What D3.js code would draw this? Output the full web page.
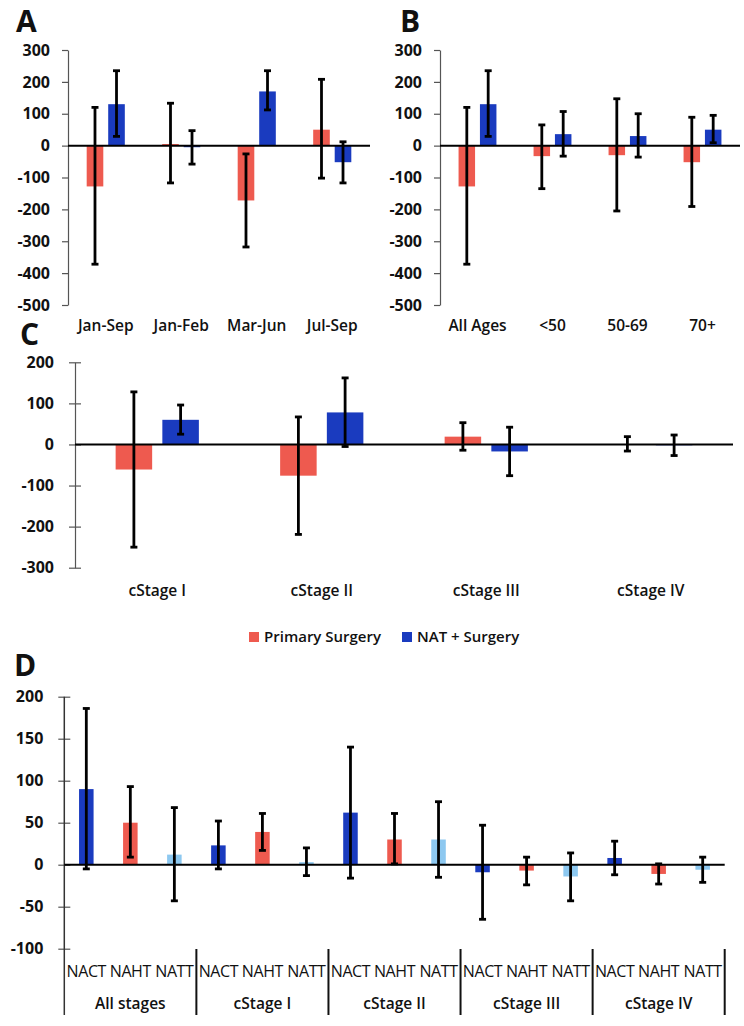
<!DOCTYPE html>
<html><head><meta charset="utf-8">
<script src="https://cdn.jsdelivr.net/npm/d3@7"></script>
<style>
body{margin:0;background:#fff;}
svg{display:block;}
text{font-family:"Open Sans","Noto Sans",sans-serif;fill:#111;}
</style></head>
<body>
<svg id="chart" width="744" height="1026"></svg>
<script>
// ---------- DATA ----------
const seriesNames = ["Primary Surgery", "NAT + Surgery"];

const catsA = ["Jan-Sep", "Jan-Feb", "Mar-Jun", "Jul-Sep"];
const primaryA = [-128, 5, -172, 50];
const primaryA_lo = [-372, -117, -318, -102];
const primaryA_hi = [120, 133, -26, 208];
const natA = [130, -5, 170, -52];
const natA_lo = [29, -58, 112, -117];
const natA_hi = [235, 47, 235, 12];

const catsB = ["All Ages", "<50", "50-69", "70+"];
const primaryB = [-128, -33, -30, -52];
const primaryB_lo = [-372, -135, -205, -191];
const primaryB_hi = [120, 65, 147, 89];
const natB = [130, 36, 30, 50];
const natB_lo = [29, -33, -36, 9];
const natB_hi = [235, 107, 100, 95];

const catsC = ["cStage I", "cStage II", "cStage III", "cStage IV"];
const primaryC = [-61, -76, 19, -1];
const primaryC_lo = [-250, -219, -14, -16];
const primaryC_hi = [128, 67, 53, 19];
const natC = [60, 78, -17, -2];
const natC_lo = [25, -5, -76, -27];
const natC_hi = [96, 162, 42, 23];

const groupsD = ["All stages", "cStage I", "cStage II", "cStage III", "cStage IV"];
const treatD = ["NACT", "NAHT", "NATT"];
const valsD = [[90, 50, 12], [23, 39, 3], [62, 30, 30], [-9, -7, -14], [8, -11, -6]];
const loD = [[-5, 9, -43], [-5, 17, -13], [-16, 1, -15], [-65, -24, -43], [-12, -23, -21]];
const hiD = [[186, 93, 68], [52, 61, 20], [140, 61, 75], [47, 9, 14], [28, 1, 9]];

const ticksAB = [300, 200, 100, 0, -100, -200, -300, -400, -500];
const ticksC = [200, 100, 0, -100, -200, -300];
const ticksD = [200, 150, 100, 50, 0, -50, -100];

// ---------- STYLE ----------
const RED = "#ee5a4f", BLUE = "#1a3bbf", LIGHT = "#8dc8f0";
const svg = d3.select("#chart");

function errBars(g, items, y, capW) {
  const eg = g.append("g");
  items.forEach(d => {
    eg.append("line").attr("x1", d.x).attr("x2", d.x).attr("y1", y(d.hi)).attr("y2", y(d.lo))
      .attr("stroke", "#000").attr("stroke-width", 2.8);
    [d.hi, d.lo].forEach(v => eg.append("line").attr("x1", d.x - capW / 2).attr("x2", d.x + capW / 2)
      .attr("y1", y(v)).attr("y2", y(v)).attr("stroke", "#000").attr("stroke-width", 2.8));
  });
}

function yAxis(g, y, x0, ticks, cross, fs, pad) {
  const ax = d3.axisLeft(y).tickValues(ticks).tickFormat(d => String(d)).tickSizeOuter(0).tickSizeInner(6).tickPadding(pad);
  const a = g.append("g").attr("transform", `translate(${x0},0)`).call(ax);
  a.select(".domain").attr("stroke", "#555").attr("stroke-width", 1.2);
  a.selectAll(".tick line").attr("stroke", "#555").attr("stroke-width", 1.2);
  if (cross) a.selectAll(".tick line").attr("x2", 6).attr("x1", -6);
  a.selectAll(".tick text").attr("font-family", "'Open Sans',sans-serif").attr("font-weight", 700)
    .attr("font-size", fs).attr("fill", "#111");
  return a;
}

function panel2(opts) {
  const { x0, x1, yTop, yBot, dom, ticks, cats, s1, s1lo, s1hi, s2, s2lo, s2hi, labelY, cross, barFrac, gapFrac, capW, labelSize, pad } = opts;
  const g = svg.append("g");
  const y = d3.scaleLinear().domain(dom).range([yBot, yTop]);
  const x = d3.scaleBand().domain(cats).range([x0, x1]).padding(0);
  const bw = x.bandwidth() * barFrac, gap = x.bandwidth() * gapFrac;
  const series = [
    { v: s1, lo: s1lo, hi: s1hi, c: RED, off: -(gap / 2 + bw / 2) },
    { v: s2, lo: s2lo, hi: s2hi, c: BLUE, off: (gap / 2 + bw / 2) }
  ];
  yAxis(g, y, x0, ticks, cross, 16, pad);
  series.forEach(s => {
    g.append("g").selectAll("rect").data(cats).join("rect")
      .attr("x", (c) => x(c) + x.bandwidth() / 2 + s.off - bw / 2)
      .attr("width", bw)
      .attr("y", (c, i) => y(Math.max(0, s.v[i])))
      .attr("height", (c, i) => Math.abs(y(s.v[i]) - y(0)))
      .attr("fill", s.c);
  });
  g.append("line").attr("x1", x0).attr("x2", x1).attr("y1", y(0)).attr("y2", y(0)).attr("stroke", "#000").attr("stroke-width", 2);
  series.forEach(s => {
    errBars(g, cats.map((c, i) => ({ x: x(c) + x.bandwidth() / 2 + s.off, lo: s.lo[i], hi: s.hi[i] })), y, capW);
  });
  g.append("g").selectAll("text").data(cats).join("text")
    .attr("x", c => x(c) + x.bandwidth() / 2).attr("y", labelY)
    .attr("text-anchor", "middle").attr("font-weight", 600).attr("font-size", labelSize)
    .text(c => c);
}

// Panel A
panel2({ x0: 68, x1: 370, yTop: 50, yBot: 305, dom: [-500, 300], ticks: ticksAB, cats: catsA,
  s1: primaryA, s1lo: primaryA_lo, s1hi: primaryA_hi, s2: natA, s2lo: natA_lo, s2hi: natA_hi,
  labelY: 331, cross: false, barFrac: 0.22, gapFrac: 0.065, capW: 7, labelSize: 15.5, pad: 12 });
// Panel B
panel2({ x0: 440, x1: 740, yTop: 50, yBot: 305, dom: [-500, 300], ticks: ticksAB, cats: catsB,
  s1: primaryB, s1lo: primaryB_lo, s1hi: primaryB_hi, s2: natB, s2lo: natB_lo, s2hi: natB_hi,
  labelY: 331, cross: false, barFrac: 0.22, gapFrac: 0.065, capW: 7, labelSize: 15.5, pad: 12 });
// Panel C
panel2({ x0: 75, x1: 733, yTop: 362.3, yBot: 567.7, dom: [-300, 200], ticks: ticksC, cats: catsC,
  s1: primaryC, s1lo: primaryC_lo, s1hi: primaryC_hi, s2: natC, s2lo: natC_lo, s2hi: natC_hi,
  labelY: 596, cross: true, barFrac: 0.222, gapFrac: 0.062, capW: 7, labelSize: 15.5, pad: 15 });

// Legend
const leg = svg.append("g");
[{ n: seriesNames[0], c: RED, x: 249 }, { n: seriesNames[1], c: BLUE, x: 402 }].forEach(l => {
  leg.append("rect").attr("x", l.x).attr("y", 632).attr("width", 10).attr("height", 10).attr("fill", l.c);
  leg.append("text").attr("x", l.x + 15).attr("y", 642).attr("font-size", 15).attr("font-weight", 600).text(l.n);
});

// Panel D
(function () {
  const g = svg.append("g");
  const x0 = 64.3, x1 = 724.7;
  const y = d3.scaleLinear().domain([-100, 200]).range([948.7, 696.7]);
  const keys = [];
  groupsD.forEach((gr, gi) => treatD.forEach((t, ti) => keys.push({ gi, ti, key: gr + "|" + t })));
  const x = d3.scaleBand().domain(keys.map(k => k.key)).range([x0, x1]).padding(0);
  const bw = x.bandwidth() * 0.33;
  const colors = [BLUE, RED, LIGHT];
  yAxis(g, y, x0, ticksD, true, 16, 15);
  g.select(".domain").remove();
  g.append("line").attr("x1", x0).attr("x2", x0).attr("y1", 696.7).attr("y2", 1015).attr("stroke", "#333").attr("stroke-width", 1.5);
  g.append("g").selectAll("rect").data(keys).join("rect")
    .attr("x", k => x(k.key) + x.bandwidth() / 2 - bw / 2).attr("width", bw)
    .attr("y", k => y(Math.max(0, valsD[k.gi][k.ti])))
    .attr("height", k => Math.abs(y(valsD[k.gi][k.ti]) - y(0)))
    .attr("fill", k => colors[k.ti]);
  g.append("line").attr("x1", x0).attr("x2", x1).attr("y1", y(0)).attr("y2", y(0)).attr("stroke", "#000").attr("stroke-width", 2);
  errBars(g, keys.map(k => ({ x: x(k.key) + x.bandwidth() / 2, lo: loD[k.gi][k.ti], hi: hiD[k.gi][k.ti] })), y, 7);
  g.append("g").selectAll("text").data(keys).join("text")
    .attr("x", k => x(k.key) + x.bandwidth() / 2).attr("y", 977)
    .attr("text-anchor", "middle").attr("font-size", 16).attr("font-weight", 400).attr("letter-spacing", -0.4)
    .text(k => treatD[k.ti]);
  groupsD.forEach((gr, gi) => {
    const xe = x(groupsD[gi] + "|" + treatD[2]) + x.bandwidth();
    g.append("line").attr("x1", xe).attr("x2", xe).attr("y1", 949).attr("y2", 1015).attr("stroke", "#111").attr("stroke-width", 2);
    const xs = x(groupsD[gi] + "|" + treatD[0]);
    g.append("text").attr("x", (xs + xe) / 2).attr("y", 1009).attr("text-anchor", "middle")
      .attr("font-size", 15.5).attr("font-weight", 600).text(gr);
  });
})();

// Panel letters
[["A", 16, 32], ["B", 400, 32], ["C", 20, 345], ["D", 14, 676]].forEach(([t, x, yy]) => {
  svg.append("text").attr("x", x).attr("y", yy).attr("font-family", "'Liberation Sans',Arial,sans-serif")
    .attr("font-weight", 700).attr("font-size", 30).text(t);
});
</script>
</body></html>
